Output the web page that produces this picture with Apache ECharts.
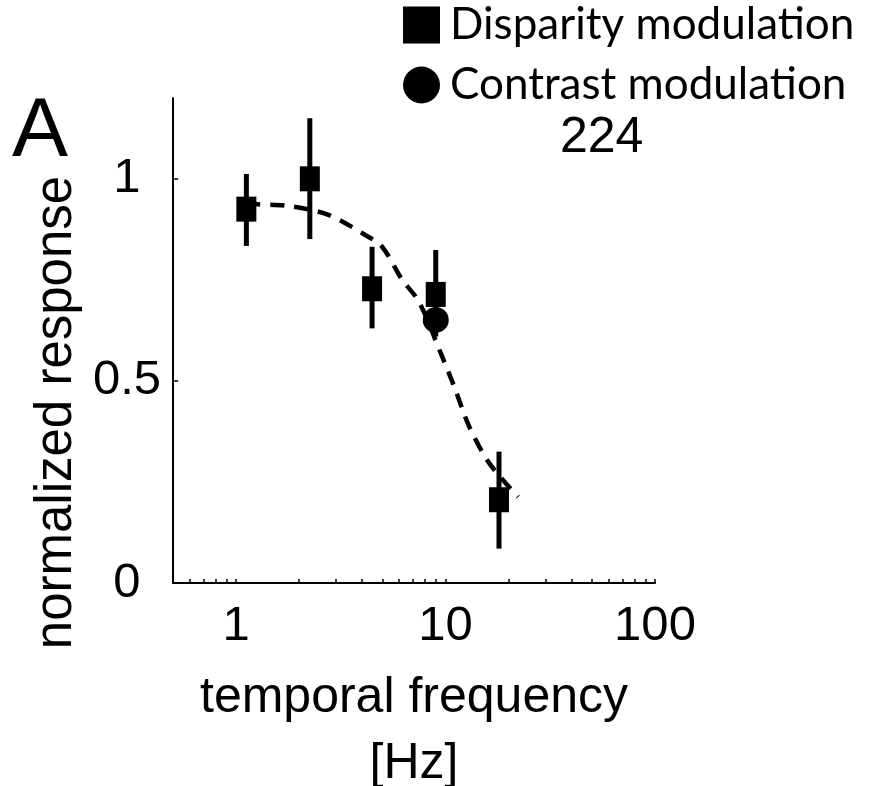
<!DOCTYPE html>
<html><head><meta charset="utf-8">
<script src="https://cdn.jsdelivr.net/npm/echarts@6/dist/echarts.min.js"></script>
<style>html,body{margin:0;padding:0;background:#fff}#c{width:876px;height:786px}</style>
</head><body><div id="c"></div>
<script>
// ---- data ----
const freqDisparity = [1.12, 2.25, 4.46, 8.98, 18.0];
const respDisparity = [0.925, 1.0, 0.728, 0.714, 0.206];
const errLowDisparity = [0.834, 0.851, 0.630, 0.61, 0.085];
const errHighDisparity = [1.012, 1.150, 0.832, 0.824, 0.325];
const freqContrast = [8.98];
const respContrast = [0.651];
const fitFreq = [1.12, 1.27, 1.77, 2.76, 4.14, 4.98, 6.21, 7.47, 9.5, 11.0, 13.0, 16.2, 22.2];
const fitResp = [0.94, 0.937, 0.933, 0.911, 0.861, 0.832, 0.75, 0.696, 0.568, 0.486, 0.386, 0.296, 0.213];
const xTickLabels = [1, 10, 100];
const xTickValues = [0.6, 0.7, 0.8, 0.9, 1, 2, 3, 4, 5, 6, 7, 8, 9, 10, 20, 30, 40, 50, 60, 70, 80, 90, 100];
const yTickValues = [0, 0.5, 1];
const seriesNames = ['Disparity modulation', 'Contrast modulation'];
const panelLetter = 'A';
const cellLabel = '224';

const AX = 'Liberation Sans, Arial, Helvetica, sans-serif';
const chart = echarts.init(document.getElementById('c'), null, {renderer: 'canvas'});

const errData = freqDisparity.map((f, i) => [f, errLowDisparity[i], errHighDisparity[i]]);

chart.setOption({
  animation: false,
  backgroundColor: '#fff',
  grid: {left: 173, top: 98, right: 221, bottom: 203, containLabel: false, outerBoundsMode: 'none'},
  legend: {
    orient: 'vertical', left: 398, top: -2,
    itemWidth: 37, itemHeight: 37, itemGap: 16,
    selectedMode: false,
    textStyle: {fontFamily: 'Lato, Calibri, sans-serif', fontSize: 44, color: '#000', padding: [0, 0, 0, 5]},
    itemStyle: {opacity: 1, color: '#000'},
    data: [
      {name: seriesNames[0], icon: 'rect'},
      {name: seriesNames[1], icon: 'circle'}
    ]
  },
  graphic: [
    {type: 'text', left: 12, top: 91, style: {text: panelLetter, font: '84px ' + AX, fill: '#000'}},
    {type: 'text', left: 560, top: 113, style: {text: cellLabel, font: '50px ' + AX, fill: '#000'}}
  ],
  xAxis: {
    type: 'log', logBase: 10, min: 0.5, max: 100,
    name: 'temporal frequency\n[Hz]', nameLocation: 'middle', nameGap: 82,
    nameTextStyle: {fontFamily: AX, fontSize: 50, color: '#000', lineHeight: 66},
    axisLine: {lineStyle: {color: '#000', width: 2}},
    axisTick: {inside: true, length: 4, lineStyle: {color: '#000', width: 1.5}, customValues: xTickValues},
    axisLabel: {fontFamily: AX, fontSize: 49, color: '#000', margin: 19, customValues: xTickLabels,
      formatter: v => String(Math.round(v))},
    splitLine: {show: false}, minorTick: {show: false}
  },
  yAxis: {
    type: 'value', min: 0, max: 1.2,
    name: 'normalized response', nameLocation: 'middle', nameRotate: 90, nameGap: 82,
    nameTextStyle: {fontFamily: AX, fontSize: 51, color: '#000', padding: [0, 144, 0, 0]},
    axisLine: {lineStyle: {color: '#000', width: 2}},
    axisTick: {inside: true, length: 5, lineStyle: {color: '#000', width: 1.5}, customValues: yTickValues},
    axisLabel: {fontFamily: AX, fontSize: 49, color: '#000', margin: 46, align: 'center', customValues: yTickValues},
    splitLine: {show: false}
  },
  series: [
    {
      name: 'errorbars', type: 'custom', data: errData, encode: {x: 0, y: [1, 2]}, z: 2,
      renderItem: (params, api) => {
        const p1 = api.coord([api.value(0), api.value(1)]);
        const p2 = api.coord([api.value(0), api.value(2)]);
        return {type: 'line', shape: {x1: p1[0], y1: p1[1], x2: p2[0], y2: p2[1]},
          style: {stroke: '#000', lineWidth: 5}};
      }
    },
    {
      name: seriesNames[0], type: 'scatter', symbol: 'rect', symbolSize: [20, 25], z: 3,
      itemStyle: {color: '#000', opacity: 1},
      data: freqDisparity.map((f, i) => [f, respDisparity[i]])
    },
    {
      name: seriesNames[1], type: 'scatter', symbol: 'circle', symbolSize: 26, z: 3,
      itemStyle: {color: '#000', opacity: 1},
      data: freqContrast.map((f, i) => [f, respContrast[i]])
    },
    {
      name: 'fit', type: 'line', smooth: 0.3, symbol: 'none', z: 4,
      lineStyle: {color: '#000', width: 4.5, type: [14, 10]},
      data: fitFreq.map((f, i) => [f, fitResp[i]])
    }
  ]
});
</script></body></html>
